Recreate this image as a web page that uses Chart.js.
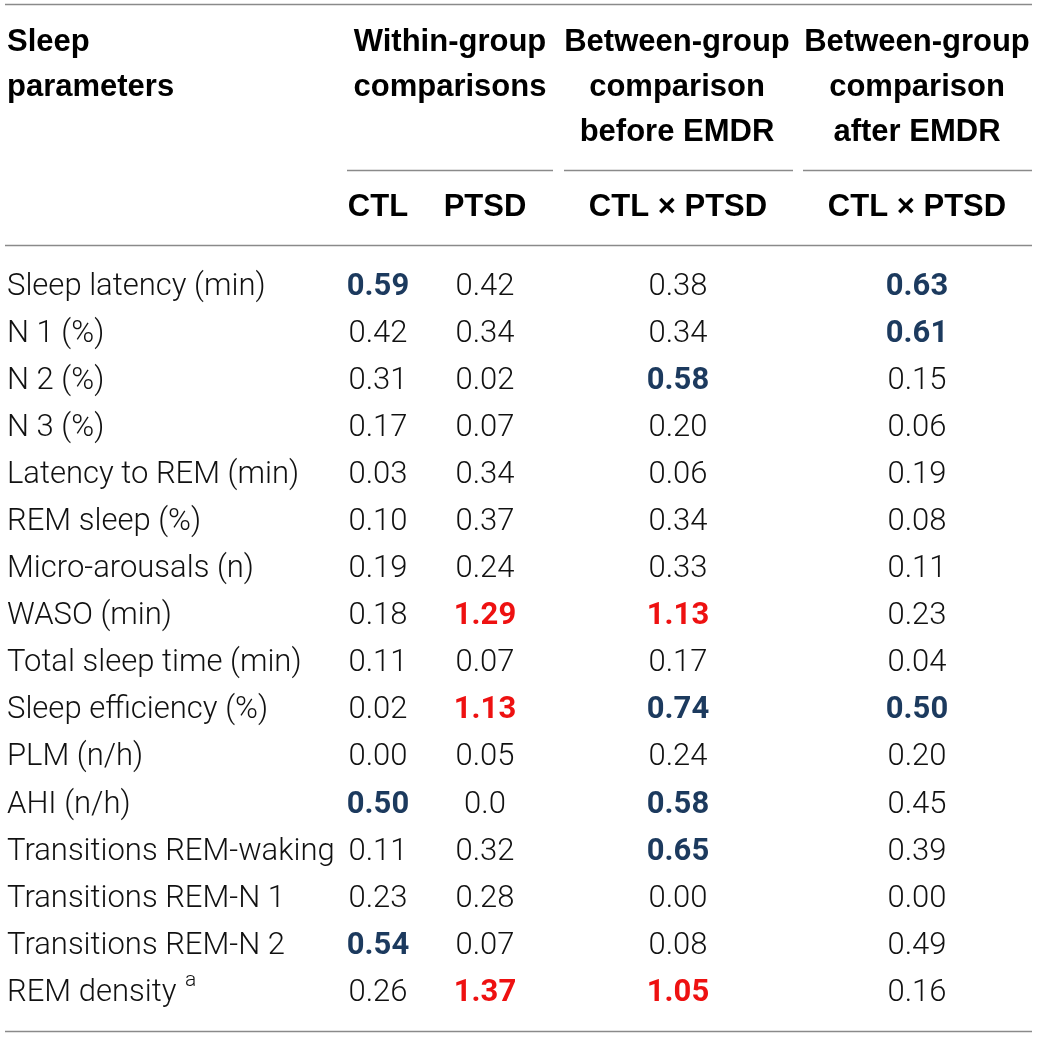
<!DOCTYPE html>
<html>
<head>
<meta charset="utf-8">
<script src="https://cdn.jsdelivr.net/npm/chart.js@4"></script>
<style>
  body { margin: 0; background: #fff; }
  #wrap { width: 1038px; height: 1038px; }
</style>
</head>
<body>
<div id="wrap"><canvas id="tableChart" width="1038" height="1038"></canvas></div>
<script>
// Datos de la tabla
const firstHeader = ['Sleep', 'parameters'];
const groupHeaders = [
    ['Within-group', 'comparisons'],
    ['Between-group', 'comparison', 'before EMDR'],
    ['Between-group', 'comparison', 'after EMDR']
];
const subHeaders = ['CTL', 'PTSD', 'CTL × PTSD', 'CTL × PTSD'];
const rowLabels = [
    'Sleep latency (min)', 'N 1 (%)', 'N 2 (%)', 'N 3 (%)', 'Latency to REM (min)',
    'REM sleep (%)', 'Micro-arousals (n)', 'WASO (min)', 'Total sleep time (min)',
    'Sleep efficiency (%)', 'PLM (n/h)', 'AHI (n/h)', 'Transitions REM-waking',
    'Transitions REM-N 1', 'Transitions REM-N 2', 'REM density'
];
const rowNotes = ['', '', '', '', '', '', '', '', '', '', '', '', '', '', '', 'a'];
const ctlValues = ['0.59', '0.42', '0.31', '0.17', '0.03', '0.10', '0.19', '0.18', '0.11', '0.02', '0.00', '0.50', '0.11', '0.23', '0.54', '0.26'];
const ptsdValues = ['0.42', '0.34', '0.02', '0.07', '0.34', '0.37', '0.24', '1.29', '0.07', '1.13', '0.05', '0.0', '0.32', '0.28', '0.07', '1.37'];
const beforeValues = ['0.38', '0.34', '0.58', '0.20', '0.06', '0.34', '0.33', '1.13', '0.17', '0.74', '0.24', '0.58', '0.65', '0.00', '0.08', '1.05'];
const afterValues = ['0.63', '0.61', '0.15', '0.06', '0.19', '0.08', '0.11', '0.23', '0.04', '0.50', '0.20', '0.45', '0.39', '0.00', '0.49', '0.16'];

// Disposición (unidades de escala: x en px de diseño, y en filas)
const labelX = 7;
const colX = [378, 485, 678, 917];
const groupX = [450, 677, 917];
const groupRules = [[347, 553], [564, 793], [803, 1032]];
const headerRows = [-5.2, -4.245, -3.29];
const subHeaderRow = -1.7;
const fullRules = [-6.01, -0.89, 15.8];
const groupRuleRow = -2.485;

const bodyFont = '300 31px Roboto, "Liberation Sans", sans-serif';
const boldFont = 'bold 31px Roboto, "Liberation Sans", sans-serif';
const headFont = 'bold 31px "Liberation Sans", Arial, sans-serif';
const noteFont = '300 21px Roboto, "Liberation Sans", sans-serif';
const ruleColor = '#8a8a8a';

function valueStyle(text) {
    const v = parseFloat(text);
    if (v >= 0.8) return { font: boldFont, color: '#ee1111' };
    if (v >= 0.5) return { font: boldFont, color: '#1c3a5e' };
    return { font: bodyFont, color: '#111111' };
}

function toPoints(values, col) {
    return values.map((t, i) => ({ x: colX[col], y: i, label: t }));
}

const tablePlugin = {
    id: 'tableText',
    afterDraw(chart) {
        const ctx = chart.ctx;
        const xs = chart.scales.x;
        const ys = chart.scales.y;
        ctx.save();
        // Líneas horizontales
        ctx.strokeStyle = ruleColor;
        ctx.lineWidth = 1.5;
        fullRules.forEach(r => {
            const py = Math.round(ys.getPixelForValue(r)) + 0.5;
            ctx.beginPath();
            ctx.moveTo(xs.getPixelForValue(5), py);
            ctx.lineTo(xs.getPixelForValue(1032), py);
            ctx.stroke();
        });
        groupRules.forEach(([a, b]) => {
            const py = Math.round(ys.getPixelForValue(groupRuleRow)) + 0.5;
            ctx.beginPath();
            ctx.moveTo(xs.getPixelForValue(a), py);
            ctx.lineTo(xs.getPixelForValue(b), py);
            ctx.stroke();
        });

        // Encabezados
        ctx.fillStyle = '#000';
        ctx.font = headFont;
        ctx.textBaseline = 'middle';
        ctx.textAlign = 'left';
        firstHeader.forEach((t, i) => ctx.fillText(t, xs.getPixelForValue(labelX), ys.getPixelForValue(headerRows[i])));
        ctx.textAlign = 'center';
        groupHeaders.forEach((lines, g) => {
            lines.forEach((t, i) => ctx.fillText(t, xs.getPixelForValue(groupX[g]), ys.getPixelForValue(headerRows[i])));
        });
        subHeaders.forEach((t, c) => ctx.fillText(t, xs.getPixelForValue(colX[c]), ys.getPixelForValue(subHeaderRow)));

        // Celdas a partir de los puntos de cada dataset
        chart.data.datasets.forEach((ds, di) => {
            const meta = chart.getDatasetMeta(di);
            meta.data.forEach((pt, i) => {
                const raw = ds.data[i];
                if (di === 0) {
                    ctx.font = bodyFont;
                    ctx.fillStyle = '#111111';
                    ctx.textAlign = 'left';
                    ctx.fillText(raw.label, pt.x, pt.y);
                    if (rowNotes[i]) {
                        const w = ctx.measureText(raw.label + ' ').width;
                        ctx.font = noteFont;
                        ctx.fillText(rowNotes[i], pt.x + w + 1, pt.y - 12);
                    }
                } else {
                    const st = valueStyle(raw.label);
                    ctx.font = st.font;
                    ctx.fillStyle = st.color;
                    ctx.textAlign = 'center';
                    ctx.fillText(raw.label, pt.x, pt.y);
                }
            });
        });
        ctx.restore();
    }
};

function drawTable() {
    const ctx = document.getElementById('tableChart').getContext('2d');
    new Chart(ctx, {
        type: 'scatter',
        data: {
            datasets: [
                { label: 'Sleep parameters', data: rowLabels.map((t, i) => ({ x: labelX, y: i, label: t })) },
                { label: 'CTL', data: toPoints(ctlValues, 0) },
                { label: 'PTSD', data: toPoints(ptsdValues, 1) },
                { label: 'Before EMDR', data: toPoints(beforeValues, 2) },
                { label: 'After EMDR', data: toPoints(afterValues, 3) }
            ]
        },
        options: {
            responsive: false,
            animation: false,
            events: [],
            layout: { padding: 0 },
            elements: { point: { radius: 0, hoverRadius: 0 } },
            plugins: { legend: { display: false }, tooltip: { enabled: false } },
            scales: {
                x: { type: 'linear', min: 0, max: 1038, display: false },
                y: { type: 'linear', reverse: true, min: -6.097, max: 15.955, display: false }
            }
        },
        plugins: [tablePlugin]
    });
}

document.addEventListener('DOMContentLoaded', drawTable);
</script>
</body>
</html>
